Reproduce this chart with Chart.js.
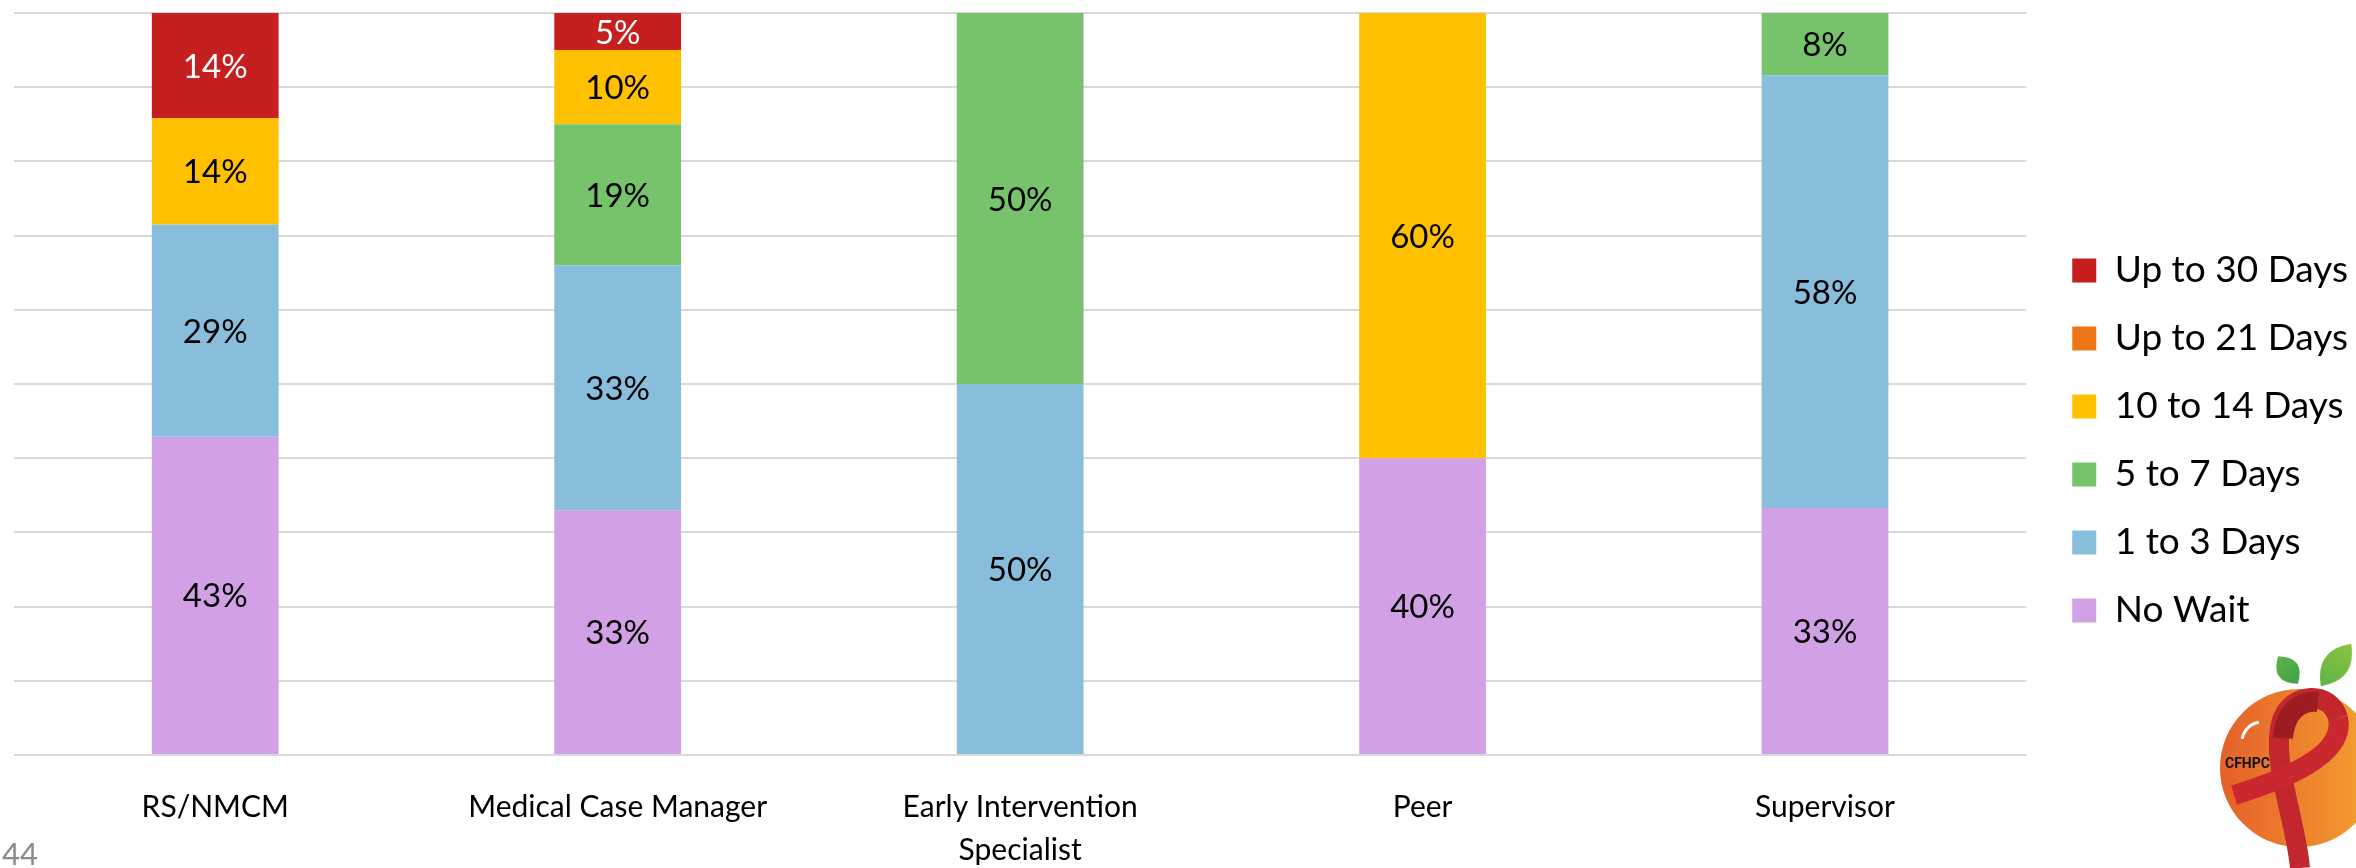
<!DOCTYPE html>
<html>
<head>
<meta charset="utf-8">
<script src="https://cdn.jsdelivr.net/npm/chart.js@4/dist/chart.umd.min.js"></script>
<style>
  html, body { margin: 0; padding: 0; background: #ffffff; }
  #wrap { width: 2356px; height: 868px; position: relative; }
</style>
</head>
<body>
<div id="wrap"><canvas id="chart" width="2356" height="868"></canvas></div>
<script>
// Staff roles along the x axis
const categories = ['RS/NMCM', 'Medical Case Manager', ['Early Intervention', 'Specialist'], 'Peer', 'Supervisor'];

// Share of responses (%) per wait-time band, bottom of the stack first
const noWait        = [42.9, 33, 0, 40, 33.3];
const oneToThree    = [28.6, 33, 50, 0, 58.3];
const fiveToSeven   = [0, 19, 50, 0, 8.4];
const tenToFourteen = [14.3, 10, 0, 60, 0];
const upTo21        = [0, 0, 0, 0, 0];
const upTo30        = [14.2, 5, 0, 0, 0];

const seriesNames  = ['No Wait', '1 to 3 Days', '5 to 7 Days', '10 to 14 Days', 'Up to 21 Days', 'Up to 30 Days'];
const seriesValues = [noWait, oneToThree, fiveToSeven, tenToFourteen, upTo21, upTo30];
const seriesColors = ['#D2A0E4', '#89BDDC', '#76C36C', '#FFC000', '#ED7517', '#C51F1F'];
const labelColors  = ['#000000', '#000000', '#000000', '#000000', '#000000', '#FFFFFF'];

const yMin = 0, yMax = 100, yStep = 10;
const slideNumber = '44';

const FONT = 'Lato, "Open Sans", sans-serif';

// Percentage labels centred inside each stacked segment
const segmentLabels = {
  id: 'segmentLabels',
  afterDatasetsDraw(chart) {
    const ctx = chart.ctx;
    ctx.save();
    ctx.font = '33px ' + FONT;
    ctx.textAlign = 'center';
    ctx.textBaseline = 'alphabetic';
    chart.data.datasets.forEach((ds, i) => {
      const meta = chart.getDatasetMeta(i);
      if (meta.hidden) return;
      meta.data.forEach((bar, j) => {
        const v = ds.data[j];
        if (!v) return;
        const p = bar.getProps(['x', 'y', 'base'], true);
        const cy = (p.y + p.base) / 2;
        ctx.fillStyle = labelColors[i];
        ctx.fillText(Math.round(v) + '%', p.x, cy + 12);
      });
    });
    ctx.restore();
  }
};

// Move the legend entries a little further from the plot area
const legendOffset = {
  id: 'legendOffset',
  afterLayout(chart) {
    const lg = chart.legend;
    if (lg) { lg.left += 15; lg.right += 15; }
  }
};

// Slide number and the CFHPC logo in the lower corners
const decorations = {
  id: 'decorations',
  afterDraw(chart) {
    const ctx = chart.ctx;
    ctx.save();
    ctx.fillStyle = '#8A8A8A';
    ctx.font = '31px ' + FONT;
    ctx.textAlign = 'left';
    ctx.textBaseline = 'alphabetic';
    ctx.fillText(slideNumber, 2, 865);

    // leaves
    const leaf = (cx, cy, rx, ry, rot, c1, c2) => {
      ctx.save();
      ctx.translate(cx, cy);
      ctx.rotate(rot);
      const g = ctx.createLinearGradient(-rx, 0, rx, 0);
      g.addColorStop(0, c1); g.addColorStop(1, c2);
      ctx.fillStyle = g;
      ctx.beginPath();
      ctx.moveTo(-rx, 0);
      ctx.quadraticCurveTo(0, -ry * 2, rx, 0);
      ctx.quadraticCurveTo(0, ry * 2, -rx, 0);
      ctx.fill();
      ctx.restore();
    };
    leaf(2288, 670, 17, 11, 0.95, '#5DB546', '#3FA048');
    leaf(2336, 665, 26, 13, -0.95, '#5FB547', '#8CC23F');

    // orange body
    const og = ctx.createLinearGradient(2220, 0, 2378, 0);
    og.addColorStop(0, '#E5602A');
    og.addColorStop(1, '#F4A331');
    ctx.fillStyle = og;
    ctx.beginPath();
    ctx.arc(2299, 768, 79, 0, Math.PI * 2);
    ctx.fill();

    // highlight
    ctx.strokeStyle = '#FFFFFF';
    ctx.lineWidth = 3;
    ctx.beginPath();
    ctx.arc(2262, 742, 20, Math.PI * 1.05, Math.PI * 1.45);
    ctx.stroke();

    // red ribbon
    ctx.lineCap = 'butt';
    ctx.lineJoin = 'round';
    ctx.strokeStyle = '#C1272D';
    ctx.lineWidth = 20;
    ctx.beginPath();
    ctx.moveTo(2300, 868);
    ctx.bezierCurveTo(2296, 820, 2270, 760, 2282, 720);
    ctx.bezierCurveTo(2292, 692, 2330, 690, 2338, 718);
    ctx.stroke();
    ctx.strokeStyle = '#C8282E';
    ctx.beginPath();
    ctx.moveTo(2338, 718);
    ctx.bezierCurveTo(2345, 750, 2300, 775, 2234, 795);
    ctx.stroke();
    ctx.strokeStyle = '#9C1C22';
    ctx.lineWidth = 20;
    ctx.beginPath();
    ctx.moveTo(2283, 738);
    ctx.bezierCurveTo(2285, 712, 2300, 700, 2318, 702);
    ctx.stroke();

    ctx.fillStyle = '#111111';
    ctx.font = 'bold 14px Roboto, sans-serif';
    ctx.textBaseline = 'alphabetic';
    ctx.fillText('CFHPC', 2225, 768);
    ctx.restore();
  }
};

const datasets = seriesNames.map((name, i) => ({
  label: name,
  data: seriesValues[i],
  backgroundColor: seriesColors[i],
  borderWidth: 0,
  barPercentage: 0.315,
  categoryPercentage: 1.0
}));

new Chart(document.getElementById('chart'), {
  type: 'bar',
  data: { labels: categories, datasets },
  plugins: [segmentLabels, legendOffset, decorations],
  options: {
    responsive: false,
    animation: false,
    devicePixelRatio: 1,
    layout: { padding: { top: 13, left: 14, right: 13, bottom: 0 } },
    plugins: {
      legend: {
        position: 'right',
        reverse: true,
        labels: {
          font: { family: FONT, size: 37 },
          color: '#000000',
          boxWidth: 24,
          boxHeight: 24,
          padding: 31
        }
      },
      tooltip: { enabled: false },
      title: { display: false }
    },
    scales: {
      x: {
        stacked: true,
        grid: { display: false, drawTicks: false },
        border: { display: false },
        ticks: {
          font: { family: FONT, size: 30, lineHeight: 1.43 },
          color: '#000000',
          padding: 31,
          autoSkip: false,
          maxRotation: 0
        },
        afterFit(scale) { scale.height = 113; }
      },
      y: {
        stacked: true,
        min: yMin,
        max: yMax,
        ticks: { display: false, stepSize: yStep },
        grid: { color: '#D9D9D9', lineWidth: 2, drawTicks: false },
        border: { display: false }
      }
    }
  }
});
</script>
</body>
</html>
